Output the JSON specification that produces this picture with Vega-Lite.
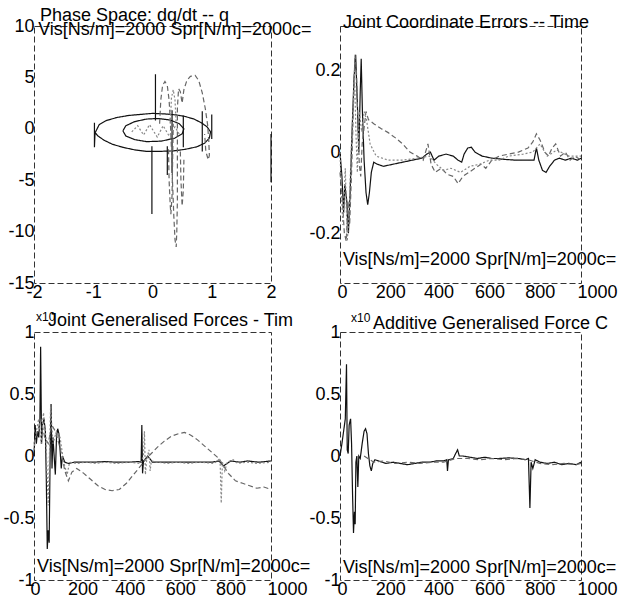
{
  "$schema": "https://vega.github.io/schema/vega-lite/v6.json",
  "background": "white",
  "padding": {"left": 2, "top": 6, "right": 0, "bottom": 0},
  "config": {
    "font": "Liberation Sans",
    "view": {"stroke": "#333", "strokeDash": [6, 3], "strokeWidth": 1},
    "axis": {"domain": false, "ticks": false, "grid": false, "labelFontSize": 18, "labelColor": "black", "labelFont": "Liberation Sans", "labelPadding": 0, "labelOverlap": false, "labelFlush": false, "labelExpr": "toString(datum.value)"},
    "title": {"fontSize": 18, "fontWeight": "normal", "font": "Liberation Sans", "anchor": "start", "frame": "group", "baseline": "alphabetic", "color": "black"},
    "line": {"strokeWidth": 1.2}
  },
  "bounds": "flush",
  "spacing": {"row": 49, "column": 69},
  "columns": 2,
  "resolve": {"scale": {"x": "independent", "y": "independent"}},
  "datasets": {
    "p1": [
      {"p": "a1", "s": "a", "i": 0, "x": -0.98, "y": 0.6}, {"p": "a1", "s": "a", "i": 1, "x": -0.98, "y": -1.8}, {"p": "a1", "s": "a", "i": 2, "x": -0.97, "y": -0.4}, {"p": "a1", "s": "a", "i": 3, "x": -0.9, "y": 0.4}, {"p": "a1", "s": "a", "i": 4, "x": -0.78, "y": 0.8}, {"p": "a1", "s": "a", "i": 5, "x": -0.6, "y": 1.1}, {"p": "a1", "s": "a", "i": 6, "x": -0.4, "y": 1.3}, {"p": "a1", "s": "a", "i": 7, "x": -0.2, "y": 1.4}, {"p": "a1", "s": "a", "i": 8, "x": 0.0, "y": 1.5}, {"p": "a1", "s": "a", "i": 9, "x": 0.2, "y": 1.45}, {"p": "a1", "s": "a", "i": 10, "x": 0.4, "y": 1.35}, {"p": "a1", "s": "a", "i": 11, "x": 0.55, "y": 1.2}, {"p": "a1", "s": "a", "i": 12, "x": 0.7, "y": 0.95}, {"p": "a1", "s": "a", "i": 13, "x": 0.82, "y": 0.6}, {"p": "a1", "s": "a", "i": 14, "x": 0.92, "y": 0.2}, {"p": "a1", "s": "a", "i": 15, "x": 0.98, "y": -0.3}, {"p": "a1", "s": "a", "i": 16, "x": 0.96, "y": -0.9}, {"p": "a1", "s": "a", "i": 17, "x": 0.88, "y": -1.4}, {"p": "a1", "s": "a", "i": 18, "x": 0.75, "y": -1.75}, {"p": "a1", "s": "a", "i": 19, "x": 0.55, "y": -2.0}, {"p": "a1", "s": "a", "i": 20, "x": 0.35, "y": -2.15}, {"p": "a1", "s": "a", "i": 21, "x": 0.1, "y": -2.2}, {"p": "a1", "s": "a", "i": 22, "x": -0.1, "y": -2.2}, {"p": "a1", "s": "a", "i": 23, "x": -0.3, "y": -2.05}, {"p": "a1", "s": "a", "i": 24, "x": -0.5, "y": -1.8}, {"p": "a1", "s": "a", "i": 25, "x": -0.68, "y": -1.5}, {"p": "a1", "s": "a", "i": 26, "x": -0.82, "y": -1.1}, {"p": "a1", "s": "a", "i": 27, "x": -0.92, "y": -0.7}, {"p": "a1", "s": "a", "i": 28, "x": -0.98, "y": -0.3},
      {"p": "a2", "s": "a", "i": 0, "x": -0.5, "y": -0.2}, {"p": "a2", "s": "a", "i": 1, "x": -0.45, "y": 0.3}, {"p": "a2", "s": "a", "i": 2, "x": -0.3, "y": 0.7}, {"p": "a2", "s": "a", "i": 3, "x": -0.1, "y": 0.95}, {"p": "a2", "s": "a", "i": 4, "x": 0.1, "y": 1.0}, {"p": "a2", "s": "a", "i": 5, "x": 0.3, "y": 0.85}, {"p": "a2", "s": "a", "i": 6, "x": 0.45, "y": 0.5}, {"p": "a2", "s": "a", "i": 7, "x": 0.53, "y": 0.0}, {"p": "a2", "s": "a", "i": 8, "x": 0.5, "y": -0.5}, {"p": "a2", "s": "a", "i": 9, "x": 0.38, "y": -0.9}, {"p": "a2", "s": "a", "i": 10, "x": 0.15, "y": -1.2}, {"p": "a2", "s": "a", "i": 11, "x": -0.1, "y": -1.25}, {"p": "a2", "s": "a", "i": 12, "x": -0.3, "y": -1.05}, {"p": "a2", "s": "a", "i": 13, "x": -0.45, "y": -0.7}, {"p": "a2", "s": "a", "i": 14, "x": -0.5, "y": -0.2},
      {"p": "a3", "s": "a", "i": 0, "x": 0.84, "y": 1.7}, {"p": "a3", "s": "a", "i": 1, "x": 0.84, "y": -2.2},
      {"p": "a4", "s": "a", "i": 0, "x": 1.0, "y": 1.4}, {"p": "a4", "s": "a", "i": 1, "x": 1.0, "y": -1.0},
      {"p": "a5", "s": "a", "i": 0, "x": 0.05, "y": 5.3}, {"p": "a5", "s": "a", "i": 1, "x": 0.05, "y": 0.8},
      {"p": "a6", "s": "a", "i": 0, "x": -0.01, "y": -1.7}, {"p": "a6", "s": "a", "i": 1, "x": -0.01, "y": -8.3},
      {"p": "a7", "s": "a", "i": 0, "x": 0.33, "y": 1.8}, {"p": "a7", "s": "a", "i": 1, "x": 0.33, "y": -4.3},
      {"p": "a8", "s": "a", "i": 0, "x": 0.25, "y": -1.7}, {"p": "a8", "s": "a", "i": 1, "x": 0.25, "y": -4.5},
      {"p": "a9", "s": "a", "i": 0, "x": 0.52, "y": 1.3}, {"p": "a9", "s": "a", "i": 1, "x": 0.52, "y": -1.8},
      {"p": "a10", "s": "a", "i": 0, "x": 2.0, "y": -0.5}, {"p": "a10", "s": "a", "i": 1, "x": 2.0, "y": -5.2},
      {"p": "b1", "s": "b", "i": 0, "x": 0.12, "y": 0.5}, {"p": "b1", "s": "b", "i": 1, "x": 0.14, "y": 2.8}, {"p": "b1", "s": "b", "i": 2, "x": 0.17, "y": 4.2}, {"p": "b1", "s": "b", "i": 3, "x": 0.21, "y": 4.6}, {"p": "b1", "s": "b", "i": 4, "x": 0.25, "y": 4.2}, {"p": "b1", "s": "b", "i": 5, "x": 0.28, "y": 2.8}, {"p": "b1", "s": "b", "i": 6, "x": 0.3, "y": 0.8}, {"p": "b1", "s": "b", "i": 7, "x": 0.32, "y": -2.0}, {"p": "b1", "s": "b", "i": 8, "x": 0.34, "y": -5.5}, {"p": "b1", "s": "b", "i": 9, "x": 0.36, "y": -8.5}, {"p": "b1", "s": "b", "i": 10, "x": 0.38, "y": -10.8}, {"p": "b1", "s": "b", "i": 11, "x": 0.4, "y": -11.5}, {"p": "b1", "s": "b", "i": 12, "x": 0.41, "y": -10.0}, {"p": "b1", "s": "b", "i": 13, "x": 0.42, "y": -7.0}, {"p": "b1", "s": "b", "i": 14, "x": 0.42, "y": -4.0}, {"p": "b1", "s": "b", "i": 15, "x": 0.42, "y": -1.0}, {"p": "b1", "s": "b", "i": 16, "x": 0.42, "y": 2.0}, {"p": "b1", "s": "b", "i": 17, "x": 0.44, "y": 3.9}, {"p": "b1", "s": "b", "i": 18, "x": 0.47, "y": 3.6}, {"p": "b1", "s": "b", "i": 19, "x": 0.5, "y": 2.5}, {"p": "b1", "s": "b", "i": 20, "x": 0.53, "y": 3.8}, {"p": "b1", "s": "b", "i": 21, "x": 0.58, "y": 4.7}, {"p": "b1", "s": "b", "i": 22, "x": 0.64, "y": 5.1}, {"p": "b1", "s": "b", "i": 23, "x": 0.72, "y": 5.2}, {"p": "b1", "s": "b", "i": 24, "x": 0.78, "y": 4.7}, {"p": "b1", "s": "b", "i": 25, "x": 0.84, "y": 3.5}, {"p": "b1", "s": "b", "i": 26, "x": 0.89, "y": 2.0}, {"p": "b1", "s": "b", "i": 27, "x": 0.93, "y": 0.4}, {"p": "b1", "s": "b", "i": 28, "x": 0.95, "y": -1.2}, {"p": "b1", "s": "b", "i": 29, "x": 0.96, "y": -2.6}, {"p": "b1", "s": "b", "i": 30, "x": 0.94, "y": -3.0}, {"p": "b1", "s": "b", "i": 31, "x": 0.9, "y": -2.2}, {"p": "b1", "s": "b", "i": 32, "x": 0.88, "y": -0.5},
      {"p": "b2", "s": "b", "i": 0, "x": 0.27, "y": -2.0}, {"p": "b2", "s": "b", "i": 1, "x": 0.28, "y": -5.0}, {"p": "b2", "s": "b", "i": 2, "x": 0.3, "y": -7.5}, {"p": "b2", "s": "b", "i": 3, "x": 0.31, "y": -8.3}, {"p": "b2", "s": "b", "i": 4, "x": 0.33, "y": -6.5}, {"p": "b2", "s": "b", "i": 5, "x": 0.34, "y": -3.0}, {"p": "b2", "s": "b", "i": 6, "x": 0.35, "y": 0.5},
      {"p": "b3", "s": "b", "i": 0, "x": 0.47, "y": -2.2}, {"p": "b3", "s": "b", "i": 1, "x": 0.48, "y": -5.0}, {"p": "b3", "s": "b", "i": 2, "x": 0.5, "y": -7.5}, {"p": "b3", "s": "b", "i": 3, "x": 0.52, "y": -6.0}, {"p": "b3", "s": "b", "i": 4, "x": 0.53, "y": -3.0},
      {"p": "c1", "s": "c", "i": 0, "x": -0.35, "y": -0.3}, {"p": "c1", "s": "c", "i": 1, "x": -0.25, "y": 0.3}, {"p": "c1", "s": "c", "i": 2, "x": -0.15, "y": -0.6}, {"p": "c1", "s": "c", "i": 3, "x": -0.05, "y": 0.4}, {"p": "c1", "s": "c", "i": 4, "x": 0.08, "y": -0.8}, {"p": "c1", "s": "c", "i": 5, "x": 0.18, "y": 0.3}, {"p": "c1", "s": "c", "i": 6, "x": 0.28, "y": -0.7}, {"p": "c1", "s": "c", "i": 7, "x": 0.38, "y": 0.2}, {"p": "c1", "s": "c", "i": 8, "x": 0.45, "y": -0.5},
      {"p": "c2", "s": "c", "i": 0, "x": 0.3, "y": 0.5}, {"p": "c2", "s": "c", "i": 1, "x": 0.32, "y": 3.0}, {"p": "c2", "s": "c", "i": 2, "x": 0.35, "y": 3.8}, {"p": "c2", "s": "c", "i": 3, "x": 0.38, "y": 2.8}, {"p": "c2", "s": "c", "i": 4, "x": 0.4, "y": 0.5}
    ],
    "p2": [
      {"s": "a", "x": 0, "y": 0}, {"s": "a", "x": 8, "y": -0.06}, {"s": "a", "x": 15, "y": -0.15}, {"s": "a", "x": 20, "y": -0.08}, {"s": "a", "x": 28, "y": -0.12}, {"s": "a", "x": 35, "y": -0.2}, {"s": "a", "x": 42, "y": -0.1}, {"s": "a", "x": 50, "y": 0.05}, {"s": "a", "x": 58, "y": 0.18}, {"s": "a", "x": 65, "y": 0.24}, {"s": "a", "x": 72, "y": 0.12}, {"s": "a", "x": 78, "y": 0.0}, {"s": "a", "x": 84, "y": 0.15}, {"s": "a", "x": 88, "y": 0.23}, {"s": "a", "x": 93, "y": 0.1}, {"s": "a", "x": 100, "y": -0.02}, {"s": "a", "x": 108, "y": -0.1}, {"s": "a", "x": 115, "y": -0.13}, {"s": "a", "x": 122, "y": -0.1}, {"s": "a", "x": 130, "y": -0.05}, {"s": "a", "x": 140, "y": -0.025}, {"s": "a", "x": 155, "y": -0.03}, {"s": "a", "x": 180, "y": -0.035}, {"s": "a", "x": 220, "y": -0.03}, {"s": "a", "x": 260, "y": -0.025}, {"s": "a", "x": 300, "y": -0.02}, {"s": "a", "x": 340, "y": -0.015}, {"s": "a", "x": 360, "y": -0.005}, {"s": "a", "x": 375, "y": 0.0}, {"s": "a", "x": 390, "y": -0.02}, {"s": "a", "x": 410, "y": -0.01}, {"s": "a", "x": 440, "y": -0.005}, {"s": "a", "x": 470, "y": -0.01}, {"s": "a", "x": 490, "y": -0.02}, {"s": "a", "x": 505, "y": -0.025}, {"s": "a", "x": 515, "y": -0.005}, {"s": "a", "x": 530, "y": 0.01}, {"s": "a", "x": 545, "y": 0.012}, {"s": "a", "x": 560, "y": 0.0}, {"s": "a", "x": 590, "y": -0.01}, {"s": "a", "x": 630, "y": -0.015}, {"s": "a", "x": 680, "y": -0.018}, {"s": "a", "x": 730, "y": -0.02}, {"s": "a", "x": 780, "y": -0.02}, {"s": "a", "x": 805, "y": -0.02}, {"s": "a", "x": 815, "y": 0.01}, {"s": "a", "x": 825, "y": -0.02}, {"s": "a", "x": 840, "y": -0.045}, {"s": "a", "x": 855, "y": -0.05}, {"s": "a", "x": 870, "y": -0.035}, {"s": "a", "x": 890, "y": -0.02}, {"s": "a", "x": 910, "y": -0.015}, {"s": "a", "x": 935, "y": -0.02}, {"s": "a", "x": 960, "y": -0.015}, {"s": "a", "x": 985, "y": -0.02}, {"s": "a", "x": 1000, "y": -0.015},
      {"s": "b", "x": 0, "y": -0.05}, {"s": "b", "x": 10, "y": -0.12}, {"s": "b", "x": 18, "y": -0.2}, {"s": "b", "x": 26, "y": -0.22}, {"s": "b", "x": 33, "y": -0.12}, {"s": "b", "x": 40, "y": -0.18}, {"s": "b", "x": 48, "y": -0.05}, {"s": "b", "x": 56, "y": 0.12}, {"s": "b", "x": 62, "y": 0.24}, {"s": "b", "x": 68, "y": 0.2}, {"s": "b", "x": 74, "y": 0.08}, {"s": "b", "x": 80, "y": -0.03}, {"s": "b", "x": 86, "y": -0.06}, {"s": "b", "x": 92, "y": 0.02}, {"s": "b", "x": 100, "y": 0.06}, {"s": "b", "x": 108, "y": 0.1}, {"s": "b", "x": 118, "y": 0.08}, {"s": "b", "x": 140, "y": 0.07}, {"s": "b", "x": 170, "y": 0.058}, {"s": "b", "x": 200, "y": 0.048}, {"s": "b", "x": 230, "y": 0.035}, {"s": "b", "x": 260, "y": 0.02}, {"s": "b", "x": 290, "y": 0.0}, {"s": "b", "x": 320, "y": -0.01}, {"s": "b", "x": 345, "y": -0.02}, {"s": "b", "x": 365, "y": 0.02}, {"s": "b", "x": 378, "y": -0.03}, {"s": "b", "x": 395, "y": -0.05}, {"s": "b", "x": 420, "y": -0.04}, {"s": "b", "x": 445, "y": -0.055}, {"s": "b", "x": 470, "y": -0.06}, {"s": "b", "x": 490, "y": -0.078}, {"s": "b", "x": 510, "y": -0.06}, {"s": "b", "x": 535, "y": -0.05}, {"s": "b", "x": 560, "y": -0.04}, {"s": "b", "x": 585, "y": -0.03}, {"s": "b", "x": 605, "y": -0.04}, {"s": "b", "x": 630, "y": -0.02}, {"s": "b", "x": 660, "y": -0.01}, {"s": "b", "x": 700, "y": -0.005}, {"s": "b", "x": 740, "y": 0.0}, {"s": "b", "x": 780, "y": 0.01}, {"s": "b", "x": 800, "y": 0.025}, {"s": "b", "x": 815, "y": 0.045}, {"s": "b", "x": 830, "y": 0.03}, {"s": "b", "x": 850, "y": 0.0}, {"s": "b", "x": 865, "y": -0.01}, {"s": "b", "x": 880, "y": 0.01}, {"s": "b", "x": 895, "y": 0.02}, {"s": "b", "x": 915, "y": -0.01}, {"s": "b", "x": 935, "y": 0.0}, {"s": "b", "x": 955, "y": -0.02}, {"s": "b", "x": 975, "y": -0.01}, {"s": "b", "x": 1000, "y": -0.02},
      {"s": "c", "x": 0, "y": 0.0}, {"s": "c", "x": 6, "y": -0.1}, {"s": "c", "x": 12, "y": -0.18}, {"s": "c", "x": 22, "y": -0.04}, {"s": "c", "x": 30, "y": -0.22}, {"s": "c", "x": 38, "y": -0.15}, {"s": "c", "x": 46, "y": 0.0}, {"s": "c", "x": 54, "y": 0.1}, {"s": "c", "x": 60, "y": 0.2}, {"s": "c", "x": 66, "y": 0.05}, {"s": "c", "x": 72, "y": -0.05}, {"s": "c", "x": 80, "y": 0.1}, {"s": "c", "x": 90, "y": 0.05}, {"s": "c", "x": 100, "y": 0.1}, {"s": "c", "x": 110, "y": 0.08}, {"s": "c", "x": 125, "y": 0.02}, {"s": "c", "x": 150, "y": -0.01}, {"s": "c", "x": 200, "y": -0.02}, {"s": "c", "x": 260, "y": -0.02}, {"s": "c", "x": 320, "y": -0.015}, {"s": "c", "x": 370, "y": -0.01}, {"s": "c", "x": 400, "y": -0.03}, {"s": "c", "x": 430, "y": -0.045}, {"s": "c", "x": 460, "y": -0.04}, {"s": "c", "x": 500, "y": -0.05}, {"s": "c", "x": 540, "y": -0.035}, {"s": "c", "x": 580, "y": -0.03}, {"s": "c", "x": 620, "y": -0.02}, {"s": "c", "x": 660, "y": -0.02}, {"s": "c", "x": 700, "y": -0.01}, {"s": "c", "x": 760, "y": -0.005}, {"s": "c", "x": 800, "y": 0.0}, {"s": "c", "x": 830, "y": 0.02}, {"s": "c", "x": 860, "y": -0.01}, {"s": "c", "x": 900, "y": 0.005}, {"s": "c", "x": 950, "y": -0.01}, {"s": "c", "x": 1000, "y": -0.01}
    ],
    "p3": [
      {"s": "a", "x": 0, "y": 0.0}, {"s": "a", "x": 5, "y": 0.25}, {"s": "a", "x": 10, "y": 0.1}, {"s": "a", "x": 15, "y": 0.2}, {"s": "a", "x": 20, "y": 0.15}, {"s": "a", "x": 25, "y": 0.3}, {"s": "a", "x": 28, "y": 0.88}, {"s": "a", "x": 32, "y": 0.1}, {"s": "a", "x": 36, "y": 0.25}, {"s": "a", "x": 42, "y": 0.3}, {"s": "a", "x": 48, "y": 0.2}, {"s": "a", "x": 52, "y": -0.2}, {"s": "a", "x": 56, "y": -0.75}, {"s": "a", "x": 60, "y": -0.6}, {"s": "a", "x": 64, "y": -0.7}, {"s": "a", "x": 68, "y": 0.0}, {"s": "a", "x": 72, "y": 0.42}, {"s": "a", "x": 76, "y": -0.1}, {"s": "a", "x": 80, "y": 0.15}, {"s": "a", "x": 85, "y": 0.0}, {"s": "a", "x": 90, "y": -0.15}, {"s": "a", "x": 95, "y": 0.15}, {"s": "a", "x": 100, "y": 0.22}, {"s": "a", "x": 105, "y": 0.18}, {"s": "a", "x": 110, "y": 0.05}, {"s": "a", "x": 115, "y": -0.1}, {"s": "a", "x": 120, "y": 0.0}, {"s": "a", "x": 130, "y": -0.05}, {"s": "a", "x": 145, "y": -0.06}, {"s": "a", "x": 170, "y": -0.05}, {"s": "a", "x": 200, "y": -0.05}, {"s": "a", "x": 250, "y": -0.05}, {"s": "a", "x": 300, "y": -0.045}, {"s": "a", "x": 350, "y": -0.05}, {"s": "a", "x": 400, "y": -0.05}, {"s": "a", "x": 440, "y": -0.045}, {"s": "a", "x": 452, "y": -0.05}, {"s": "a", "x": 455, "y": 0.25}, {"s": "a", "x": 458, "y": -0.14}, {"s": "a", "x": 462, "y": -0.04}, {"s": "a", "x": 480, "y": 0.0}, {"s": "a", "x": 500, "y": -0.05}, {"s": "a", "x": 550, "y": -0.05}, {"s": "a", "x": 600, "y": -0.05}, {"s": "a", "x": 650, "y": -0.05}, {"s": "a", "x": 700, "y": -0.05}, {"s": "a", "x": 750, "y": -0.05}, {"s": "a", "x": 780, "y": -0.04}, {"s": "a", "x": 800, "y": -0.08}, {"s": "a", "x": 830, "y": -0.04}, {"s": "a", "x": 870, "y": -0.05}, {"s": "a", "x": 900, "y": -0.04}, {"s": "a", "x": 950, "y": -0.05}, {"s": "a", "x": 1000, "y": -0.04},
      {"s": "b", "x": 0, "y": 0.1}, {"s": "b", "x": 15, "y": 0.2}, {"s": "b", "x": 30, "y": 0.3}, {"s": "b", "x": 45, "y": 0.15}, {"s": "b", "x": 60, "y": 0.1}, {"s": "b", "x": 75, "y": 0.25}, {"s": "b", "x": 90, "y": 0.2}, {"s": "b", "x": 105, "y": 0.1}, {"s": "b", "x": 118, "y": 0.0}, {"s": "b", "x": 130, "y": -0.12}, {"s": "b", "x": 145, "y": -0.2}, {"s": "b", "x": 160, "y": -0.13}, {"s": "b", "x": 180, "y": -0.1}, {"s": "b", "x": 210, "y": -0.14}, {"s": "b", "x": 240, "y": -0.19}, {"s": "b", "x": 270, "y": -0.24}, {"s": "b", "x": 300, "y": -0.27}, {"s": "b", "x": 330, "y": -0.28}, {"s": "b", "x": 360, "y": -0.27}, {"s": "b", "x": 390, "y": -0.22}, {"s": "b", "x": 420, "y": -0.15}, {"s": "b", "x": 450, "y": -0.08}, {"s": "b", "x": 475, "y": -0.02}, {"s": "b", "x": 495, "y": 0.02}, {"s": "b", "x": 520, "y": 0.07}, {"s": "b", "x": 550, "y": 0.12}, {"s": "b", "x": 580, "y": 0.16}, {"s": "b", "x": 610, "y": 0.18}, {"s": "b", "x": 635, "y": 0.19}, {"s": "b", "x": 660, "y": 0.17}, {"s": "b", "x": 690, "y": 0.13}, {"s": "b", "x": 720, "y": 0.08}, {"s": "b", "x": 750, "y": 0.03}, {"s": "b", "x": 780, "y": -0.02}, {"s": "b", "x": 800, "y": -0.08}, {"s": "b", "x": 820, "y": -0.14}, {"s": "b", "x": 850, "y": -0.2}, {"s": "b", "x": 880, "y": -0.22}, {"s": "b", "x": 910, "y": -0.24}, {"s": "b", "x": 940, "y": -0.26}, {"s": "b", "x": 970, "y": -0.25}, {"s": "b", "x": 1000, "y": -0.27},
      {"s": "c", "x": 0, "y": 0.05}, {"s": "c", "x": 10, "y": 0.2}, {"s": "c", "x": 20, "y": 0.3}, {"s": "c", "x": 30, "y": 0.1}, {"s": "c", "x": 40, "y": 0.35}, {"s": "c", "x": 50, "y": 0.15}, {"s": "c", "x": 60, "y": -0.4}, {"s": "c", "x": 70, "y": 0.4}, {"s": "c", "x": 80, "y": 0.1}, {"s": "c", "x": 95, "y": 0.2}, {"s": "c", "x": 110, "y": 0.15}, {"s": "c", "x": 125, "y": -0.05}, {"s": "c", "x": 140, "y": -0.15}, {"s": "c", "x": 150, "y": -0.05}, {"s": "c", "x": 180, "y": -0.06}, {"s": "c", "x": 220, "y": -0.05}, {"s": "c", "x": 260, "y": -0.06}, {"s": "c", "x": 300, "y": -0.05}, {"s": "c", "x": 350, "y": -0.06}, {"s": "c", "x": 400, "y": -0.05}, {"s": "c", "x": 450, "y": -0.06}, {"s": "c", "x": 462, "y": 0.0}, {"s": "c", "x": 466, "y": 0.2}, {"s": "c", "x": 470, "y": -0.15}, {"s": "c", "x": 475, "y": -0.04}, {"s": "c", "x": 485, "y": 0.05}, {"s": "c", "x": 490, "y": -0.12}, {"s": "c", "x": 495, "y": -0.04}, {"s": "c", "x": 520, "y": -0.05}, {"s": "c", "x": 560, "y": -0.06}, {"s": "c", "x": 600, "y": -0.05}, {"s": "c", "x": 650, "y": -0.06}, {"s": "c", "x": 700, "y": -0.05}, {"s": "c", "x": 760, "y": -0.06}, {"s": "c", "x": 785, "y": -0.02}, {"s": "c", "x": 790, "y": -0.38}, {"s": "c", "x": 795, "y": -0.05}, {"s": "c", "x": 805, "y": -0.12}, {"s": "c", "x": 815, "y": -0.05}, {"s": "c", "x": 840, "y": -0.03}, {"s": "c", "x": 860, "y": -0.06}, {"s": "c", "x": 900, "y": -0.05}, {"s": "c", "x": 940, "y": -0.06}, {"s": "c", "x": 1000, "y": -0.05}
    ],
    "p4": [
      {"s": "a", "x": 0, "y": 0.0}, {"s": "a", "x": 8, "y": 0.1}, {"s": "a", "x": 15, "y": 0.2}, {"s": "a", "x": 22, "y": 0.3}, {"s": "a", "x": 27, "y": 0.74}, {"s": "a", "x": 30, "y": 0.05}, {"s": "a", "x": 34, "y": 0.02}, {"s": "a", "x": 38, "y": 0.25}, {"s": "a", "x": 44, "y": 0.3}, {"s": "a", "x": 48, "y": 0.1}, {"s": "a", "x": 52, "y": -0.3}, {"s": "a", "x": 56, "y": -0.62}, {"s": "a", "x": 60, "y": -0.45}, {"s": "a", "x": 63, "y": -0.55}, {"s": "a", "x": 66, "y": -0.05}, {"s": "a", "x": 70, "y": 0.0}, {"s": "a", "x": 74, "y": -0.25}, {"s": "a", "x": 78, "y": 0.0}, {"s": "a", "x": 84, "y": -0.02}, {"s": "a", "x": 92, "y": 0.1}, {"s": "a", "x": 100, "y": 0.2}, {"s": "a", "x": 106, "y": 0.22}, {"s": "a", "x": 112, "y": 0.18}, {"s": "a", "x": 118, "y": 0.02}, {"s": "a", "x": 124, "y": -0.08}, {"s": "a", "x": 130, "y": -0.12}, {"s": "a", "x": 136, "y": -0.06}, {"s": "a", "x": 145, "y": -0.03}, {"s": "a", "x": 160, "y": -0.04}, {"s": "a", "x": 190, "y": -0.06}, {"s": "a", "x": 220, "y": -0.05}, {"s": "a", "x": 250, "y": -0.06}, {"s": "a", "x": 280, "y": -0.07}, {"s": "a", "x": 310, "y": -0.06}, {"s": "a", "x": 340, "y": -0.05}, {"s": "a", "x": 370, "y": -0.05}, {"s": "a", "x": 400, "y": -0.04}, {"s": "a", "x": 430, "y": -0.04}, {"s": "a", "x": 443, "y": -0.03}, {"s": "a", "x": 446, "y": -0.12}, {"s": "a", "x": 450, "y": -0.03}, {"s": "a", "x": 470, "y": -0.02}, {"s": "a", "x": 480, "y": 0.02}, {"s": "a", "x": 488, "y": 0.05}, {"s": "a", "x": 495, "y": 0.0}, {"s": "a", "x": 510, "y": 0.0}, {"s": "a", "x": 540, "y": -0.01}, {"s": "a", "x": 570, "y": -0.02}, {"s": "a", "x": 600, "y": -0.01}, {"s": "a", "x": 630, "y": -0.02}, {"s": "a", "x": 660, "y": -0.02}, {"s": "a", "x": 700, "y": -0.015}, {"s": "a", "x": 740, "y": -0.02}, {"s": "a", "x": 770, "y": -0.03}, {"s": "a", "x": 782, "y": -0.02}, {"s": "a", "x": 788, "y": -0.42}, {"s": "a", "x": 793, "y": -0.05}, {"s": "a", "x": 800, "y": -0.1}, {"s": "a", "x": 810, "y": -0.03}, {"s": "a", "x": 830, "y": -0.05}, {"s": "a", "x": 860, "y": -0.06}, {"s": "a", "x": 890, "y": -0.05}, {"s": "a", "x": 920, "y": -0.07}, {"s": "a", "x": 950, "y": -0.06}, {"s": "a", "x": 980, "y": -0.07}, {"s": "a", "x": 1000, "y": -0.05},
      {"s": "b", "x": 100, "y": 0.0}, {"s": "b", "x": 140, "y": -0.05}, {"s": "b", "x": 180, "y": -0.04}, {"s": "b", "x": 230, "y": -0.06}, {"s": "b", "x": 280, "y": -0.05}, {"s": "b", "x": 330, "y": -0.06}, {"s": "b", "x": 380, "y": -0.05}, {"s": "b", "x": 430, "y": -0.05}, {"s": "b", "x": 480, "y": -0.02}, {"s": "b", "x": 530, "y": -0.02}, {"s": "b", "x": 580, "y": -0.03}, {"s": "b", "x": 630, "y": -0.02}, {"s": "b", "x": 680, "y": -0.03}, {"s": "b", "x": 730, "y": -0.02}, {"s": "b", "x": 780, "y": -0.03}, {"s": "b", "x": 830, "y": -0.06}, {"s": "b", "x": 880, "y": -0.07}, {"s": "b", "x": 930, "y": -0.06}, {"s": "b", "x": 980, "y": -0.07}, {"s": "b", "x": 1000, "y": -0.06}
    ]
  },
  "concat": [
    {
      "width": 237, "height": 257,
      "title": {"text": "Phase Space: dq/dt -- q", "dx": 6, "offset": -8},
      "layer": [
        {
          "data": {"name": "p1"},
          "mark": {"type": "line"},
          "encoding": {
            "x": {"field": "x", "type": "quantitative", "title": null, "scale": {"domain": [-2, 2], "nice": false, "zero": false}, "axis": {"values": [-2, -1, 0, 1, 2]}},
            "y": {"field": "y", "type": "quantitative", "title": null, "scale": {"domain": [-15, 10], "nice": false, "zero": false}, "axis": {"values": [-15, -10, -5, 0, 5, 10]}},
            "detail": {"field": "p"},
            "order": {"field": "i"},
            "color": {"field": "s", "type": "nominal", "legend": null, "scale": {"domain": ["a", "b", "c"], "range": ["#111111", "#666666", "#888888"]}},
            "strokeDash": {"field": "s", "type": "nominal", "legend": null, "scale": {"domain": ["a", "b", "c"], "range": [[1, 0], [5, 3], [2, 2]]}}
          }
        },
        {
          "data": {"values": [{"x": -1.93, "y": 9.6, "t": "Vis[Ns/m]=2000 Spr[N/m]=2000c="}]},
          "mark": {"type": "text", "align": "left", "baseline": "middle", "fontSize": 18, "color": "black"},
          "encoding": {"x": {"field": "x", "type": "quantitative"}, "y": {"field": "y", "type": "quantitative"}, "text": {"field": "t"}}
        }
      ]
    },
    {
      "width": 241, "height": 257,
      "title": {"text": "Joint Coordinate Errors -- Time", "dx": 3, "offset": -6},
      "layer": [
        {
          "data": {"name": "p2"},
          "mark": {"type": "line"},
          "encoding": {
            "x": {"field": "x", "type": "quantitative", "title": null, "scale": {"domain": [0, 1000], "nice": false}, "axis": {"values": [0, 200, 400, 600, 800, 1000], "labelOffset": {"condition": [{"test": "datum.value == 1000", "value": 16}, {"test": "datum.value == 800", "value": 7}, {"test": "datum.value == 600", "value": 5}], "value": 2}}},
            "y": {"field": "y", "type": "quantitative", "title": null, "scale": {"domain": [-0.323, 0.311], "nice": false, "zero": false}, "axis": {"values": [-0.2, 0, 0.2]}},
            "detail": {"field": "s"},
            "color": {"field": "s", "type": "nominal", "legend": null, "scale": {"domain": ["a", "b", "c"], "range": ["#111111", "#666666", "#888888"]}},
            "strokeDash": {"field": "s", "type": "nominal", "legend": null, "scale": {"domain": ["a", "b", "c"], "range": [[1, 0], [5, 3], [2, 2]]}}
          }
        },
        {
          "data": {"values": [{"x": 12, "y": -0.267, "t": "Vis[Ns/m]=2000 Spr[N/m]=2000c="}]},
          "mark": {"type": "text", "align": "left", "baseline": "middle", "fontSize": 18, "color": "black"},
          "encoding": {"x": {"field": "x", "type": "quantitative"}, "y": {"field": "y", "type": "quantitative"}, "text": {"field": "t"}}
        }
      ]
    },
    {
      "width": 237, "height": 248,
      "title": {"text": "Joint Generalised Forces - Tim", "dx": 14, "offset": -18.5},
      "layer": [
        {
          "data": {"name": "p3"},
          "mark": {"type": "line"},
          "encoding": {
            "x": {"field": "x", "type": "quantitative", "title": null, "scale": {"domain": [0, 1000], "nice": false}, "axis": {"values": [0, 200, 400, 600, 800, 1000], "labelOffset": {"condition": [{"test": "datum.value == 1000", "value": 16}, {"test": "datum.value == 800", "value": 7}, {"test": "datum.value == 600", "value": 4}], "value": 1}}},
            "y": {"field": "y", "type": "quantitative", "title": null, "scale": {"domain": [-1, 1], "nice": false, "zero": false}, "axis": {"values": [-1, -0.5, 0, 0.5, 1]}},
            "detail": {"field": "s"},
            "color": {"field": "s", "type": "nominal", "legend": null, "scale": {"domain": ["a", "b", "c"], "range": ["#111111", "#666666", "#888888"]}},
            "strokeDash": {"field": "s", "type": "nominal", "legend": null, "scale": {"domain": ["a", "b", "c"], "range": [[1, 0], [5, 3], [2, 2]]}}
          }
        },
        {
          "data": {"values": [{"x": 13, "y": -0.895, "t": "Vis[Ns/m]=2000 Spr[N/m]=2000c="}]},
          "mark": {"type": "text", "align": "left", "baseline": "middle", "fontSize": 18, "color": "black"},
          "encoding": {"x": {"field": "x", "type": "quantitative"}, "y": {"field": "y", "type": "quantitative"}, "text": {"field": "t"}}
        },
        {
          "data": {"values": [{"x": 0, "y": 1, "t": "x10"}]},
          "mark": {"type": "text", "align": "left", "baseline": "alphabetic", "fontSize": 12, "dx": 2, "dy": -11, "color": "black"},
          "encoding": {"x": {"field": "x", "type": "quantitative"}, "y": {"field": "y", "type": "quantitative"}, "text": {"field": "t"}}
        }
      ]
    },
    {
      "width": 241, "height": 248,
      "title": {"text": "Additive Generalised Force C", "dx": 33, "offset": -21},
      "layer": [
        {
          "data": {"name": "p4"},
          "mark": {"type": "line"},
          "encoding": {
            "x": {"field": "x", "type": "quantitative", "title": null, "scale": {"domain": [0, 1000], "nice": false}, "axis": {"values": [0, 200, 400, 600, 800, 1000], "labelOffset": {"condition": [{"test": "datum.value == 1000", "value": 16}, {"test": "datum.value == 800", "value": 7}, {"test": "datum.value == 600", "value": 5}], "value": 2}}},
            "y": {"field": "y", "type": "quantitative", "title": null, "scale": {"domain": [-1, 1], "nice": false, "zero": false}, "axis": {"values": [-1, -0.5, 0, 0.5, 1]}},
            "detail": {"field": "s"},
            "color": {"field": "s", "type": "nominal", "legend": null, "scale": {"domain": ["a", "b", "c"], "range": ["#111111", "#666666", "#888888"]}},
            "strokeDash": {"field": "s", "type": "nominal", "legend": null, "scale": {"domain": ["a", "b", "c"], "range": [[1, 0], [5, 3], [2, 2]]}}
          }
        },
        {
          "data": {"values": [{"x": 12, "y": -0.9, "t": "Vis[Ns/m]=2000 Spr[N/m]=2000c="}]},
          "mark": {"type": "text", "align": "left", "baseline": "middle", "fontSize": 18, "color": "black"},
          "encoding": {"x": {"field": "x", "type": "quantitative"}, "y": {"field": "y", "type": "quantitative"}, "text": {"field": "t"}}
        },
        {
          "data": {"values": [{"x": 0, "y": 1, "t": "x10"}]},
          "mark": {"type": "text", "align": "left", "baseline": "alphabetic", "fontSize": 12, "dx": 11, "dy": -10, "color": "black"},
          "encoding": {"x": {"field": "x", "type": "quantitative"}, "y": {"field": "y", "type": "quantitative"}, "text": {"field": "t"}}
        }
      ]
    }
  ]
}
